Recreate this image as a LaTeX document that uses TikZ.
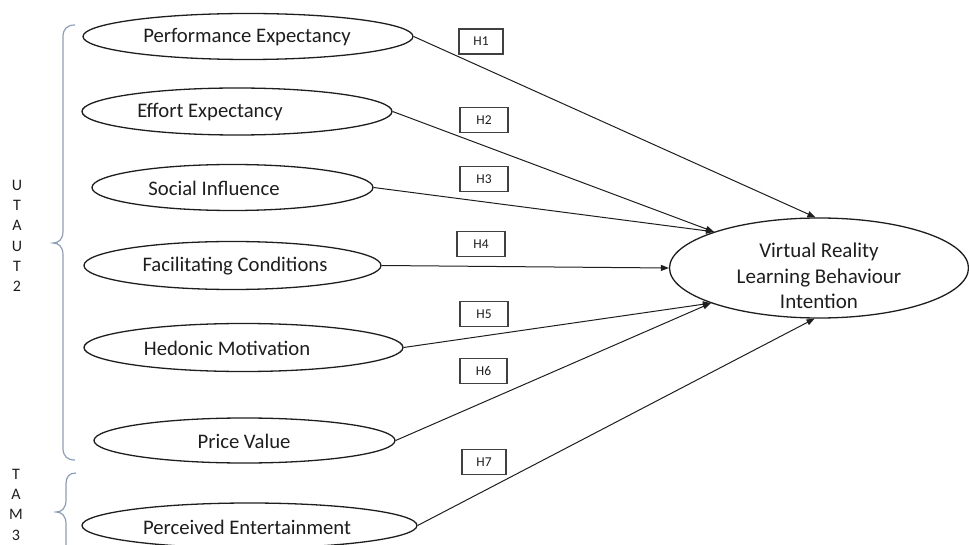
\documentclass[tikz,border=0pt]{standalone}
\usepackage{fontspec}
\setmainfont{Carlito}
\usetikzlibrary{shapes.geometric,arrows.meta}
\definecolor{bracecol}{RGB}{140,158,184}
\definecolor{ink}{RGB}{30,30,30}
\begin{document}
\begin{tikzpicture}[x=1pt,y=-1pt,
  cons/.style={draw=ink,line width=1.3pt,ellipse,inner sep=0pt},
  lbl/.style={font=\fontsize{20.7}{24}\selectfont,text=ink,inner sep=0pt},
  bigl/.style={font=\fontsize{21}{25.5}\selectfont,text=ink,inner sep=0pt,align=center},
  hbox/.style={draw=ink!85,line width=1.2pt,minimum width=46pt,minimum height=25pt,inner sep=0pt,font=\fontsize{13.5}{15}\selectfont,text=ink},
  conn/.style={draw=ink,line width=1pt,-{Triangle[length=8pt,width=6pt]}},
  brc/.style={draw=bracecol,line width=1.2pt},
  side/.style={font=\fontsize{16}{20.3}\selectfont,text=ink,align=center,inner sep=0pt}
]
\useasboundingbox (0,0) rectangle (969,545);
\clip (0,0) rectangle (969,545);

% construct ellipses
\node[cons,minimum width=330pt,minimum height=46pt] (e1) at (248,36.5) {};
\node[cons,minimum width=310pt,minimum height=47pt] (e2) at (237,111.5) {};
\node[cons,minimum width=281pt,minimum height=46pt] (e3) at (232.5,187.5) {};
\node[cons,minimum width=297pt,minimum height=48pt] (e4) at (232.5,265.5) {};
\node[cons,minimum width=319pt,minimum height=48pt] (e5) at (243.5,347.5) {};
\node[cons,minimum width=301pt,minimum height=45pt] (e6) at (244.5,440.5) {};
\node[cons,minimum width=335pt,minimum height=45pt] (e7) at (249.5,525.5) {};

\node[lbl] (t1) at (247,37) {Performance Expectancy};
\node[lbl] (t2) at (210,112) {Effort Expectancy};
\node[lbl] (t3) at (214,188) {Social Influence};
\node[lbl] (t4) at (235,266) {Facilitating Conditions};
\node[lbl] (t5) at (227,348) {Hedonic Motivation};
\node[lbl] (t6) at (244,441) {Price Value};
\node[lbl] (t7) at (247,527) {Perceived Entertainment};

% outcome
\node[cons,minimum width=299pt,minimum height=100pt] (vr) at (819,268) {};
\node[bigl] (vrt) at (819,276) {Virtual Reality\\Learning Behaviour\\Intention};

% hypothesis boxes
\node[hbox,minimum width=44pt] (h1) at (481,41.5) {H1};
\node[hbox,minimum width=48pt] (h2) at (484,120) {H2};
\node[hbox,minimum width=48pt] (h3) at (484,179) {H3};
\node[hbox,minimum width=48pt] (h4) at (481,244) {H4};
\node[hbox,minimum width=48pt] (h5) at (484,314) {H5};
\node[hbox,minimum width=47pt] (h6) at (483.5,371) {H6};
\node[hbox,minimum width=44pt] (h7) at (484,462) {H7};

% connectors
\draw[conn] (e1.east) -- (vr.94.4);
\draw[conn] (e2.east) -- (vr.161.4);
\draw[conn] (e3.east) -- (vr.161.4);
\draw[conn] (e4.east) -- (vr.west);
\draw[conn] (e5.east) -- (vr.198.1);
\draw[conn] (e6.east) -- (vr.198.1);
\draw[conn] (e7.east) -- (vr.265.6);

% braces
\draw[brc] (75,25) .. controls (67,25) and (63,29) .. (63,37) -- (63,231)
  .. controls (63,239) and (59,243) .. (53,243)
  .. controls (59,243) and (63,247) .. (63,255) -- (63,448)
  .. controls (63,456) and (67,460) .. (75,460);
\draw[brc] (76,473) .. controls (69,473) and (66,477) .. (66,484) -- (66,500)
  .. controls (66,508) and (62,512) .. (56,512)
  .. controls (62,512) and (66,516) .. (66,524) -- (66,552);

\node[side] (utaut) at (17,236) {U\\T\\A\\U\\T\\2};
\node[side] (tam) at (16,504.5) {T\\A\\M\\3};
\end{tikzpicture}
\end{document}
